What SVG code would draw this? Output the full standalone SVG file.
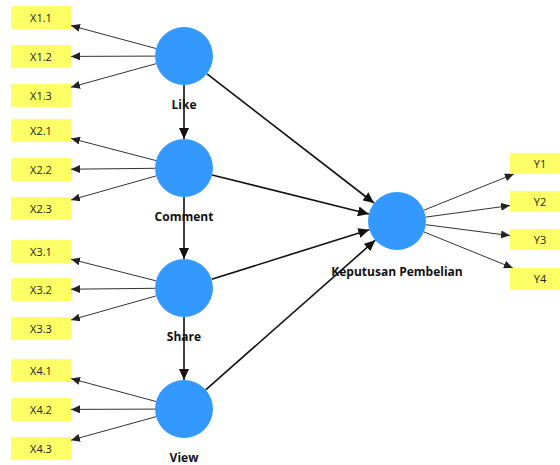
<svg xmlns="http://www.w3.org/2000/svg" width="560" height="465" viewBox="0 0 560 465">
<style>
.ind{fill:#ffff66;stroke:none}
.lv{fill:#3399ff;stroke:none}
.it{font-family:"Open Sans","Noto Sans",sans-serif;font-size:11px;fill:#222;text-anchor:middle}
.lt{font-family:"Open Sans","Noto Sans",sans-serif;font-size:12px;font-weight:bold;fill:#111;text-anchor:middle}
.sl{stroke:#111;stroke-width:1.6;fill:none;marker-end:url(#ah)}
.il{stroke:#333;stroke-width:1;fill:none;marker-end:url(#ai)}
</style>
<defs>
<marker id="ah" markerUnits="userSpaceOnUse" markerWidth="12" markerHeight="10" refX="11" refY="5" orient="auto">
<path d="M0,0 L11,5 L0,10 Z" fill="#111"/>
</marker>
<marker id="ai" markerUnits="userSpaceOnUse" markerWidth="10" markerHeight="8" refX="9" refY="4" orient="auto">
<path d="M0,0 L9,4 L0,8 Z" fill="#222"/>
</marker>
</defs>
<rect width="560" height="465" fill="#fff"/>
<g id="connectors">
<line class="sl" x1="184" y1="85" x2="184" y2="139"/>
<line class="sl" x1="184" y1="197" x2="184" y2="259"/>
<line class="sl" x1="184" y1="317" x2="184" y2="380"/>
<line class="sl" x1="207" y1="73.8" x2="374" y2="203"/>
<line class="sl" x1="212.1" y1="175" x2="368.9" y2="214"/>
<line class="sl" x1="211.7" y1="279.3" x2="369.3" y2="229.7"/>
<line class="sl" x1="205.7" y1="389.8" x2="375.3" y2="240.2"/>
<line class="il" x1="156" y1="48.5" x2="71" y2="25.6"/>
<line class="il" x1="155" y1="56.1" x2="71" y2="56.4"/>
<line class="il" x1="156" y1="63.7" x2="71" y2="87.2"/>
<line class="il" x1="156.1" y1="160.6" x2="71" y2="138.4"/>
<line class="il" x1="155" y1="168.3" x2="71" y2="169.2"/>
<line class="il" x1="156.1" y1="175.9" x2="71" y2="200"/>
<line class="il" x1="155.9" y1="280.8" x2="71" y2="259.2"/>
<line class="il" x1="155" y1="288.3" x2="71" y2="289.2"/>
<line class="il" x1="156.1" y1="295.9" x2="71" y2="320"/>
<line class="il" x1="156" y1="401.5" x2="71" y2="378.6"/>
<line class="il" x1="155" y1="409.1" x2="71" y2="409.4"/>
<line class="il" x1="156" y1="416.7" x2="71" y2="440.2"/>
<line class="il" x1="423.9" y1="210.2" x2="513.9" y2="174"/>
<line class="il" x1="425.7" y1="217.1" x2="510" y2="205.6"/>
<line class="il" x1="425.8" y1="224.7" x2="510" y2="235.6"/>
<line class="il" x1="423.9" y1="231.9" x2="512.9" y2="268"/>
</g>
<g id="X1.1"><rect class="ind" x="11" y="6" width="60" height="23"/><text class="it" x="41" y="21.5">X1.1</text></g>
<g id="X1.2"><rect class="ind" x="11" y="45" width="60" height="23"/><text class="it" x="41" y="60.5">X1.2</text></g>
<g id="X1.3"><rect class="ind" x="11" y="84" width="60" height="23"/><text class="it" x="41" y="99.5">X1.3</text></g>
<g id="X2.1"><rect class="ind" x="11" y="119" width="60" height="23"/><text class="it" x="41" y="134.5">X2.1</text></g>
<g id="X2.2"><rect class="ind" x="11" y="158" width="60" height="23"/><text class="it" x="41" y="173.5">X2.2</text></g>
<g id="X2.3"><rect class="ind" x="11" y="197" width="60" height="23"/><text class="it" x="41" y="212.5">X2.3</text></g>
<g id="X3.1"><rect class="ind" x="11" y="240" width="60" height="23"/><text class="it" x="41" y="255.5">X3.1</text></g>
<g id="X3.2"><rect class="ind" x="11" y="278" width="60" height="23"/><text class="it" x="41" y="293.5">X3.2</text></g>
<g id="X3.3"><rect class="ind" x="11" y="317" width="60" height="23"/><text class="it" x="41" y="332.5">X3.3</text></g>
<g id="X4.1"><rect class="ind" x="11" y="359" width="60" height="23"/><text class="it" x="41" y="374.5">X4.1</text></g>
<g id="X4.2"><rect class="ind" x="11" y="398" width="60" height="23"/><text class="it" x="41" y="413.5">X4.2</text></g>
<g id="X4.3"><rect class="ind" x="11" y="437" width="60" height="23"/><text class="it" x="41" y="452.5">X4.3</text></g>
<g id="Y1"><rect class="ind" x="510" y="153" width="60" height="21"/><text class="it" x="540" y="167.5">Y1</text></g>
<g id="Y2"><rect class="ind" x="510" y="191" width="60" height="21"/><text class="it" x="540" y="205.5">Y2</text></g>
<g id="Y3"><rect class="ind" x="510" y="229" width="60" height="21"/><text class="it" x="540" y="243.5">Y3</text></g>
<g id="Y4"><rect class="ind" x="510" y="268" width="60" height="22"/><text class="it" x="540" y="283">Y4</text></g>
<g id="Like"><circle class="lv" cx="184" cy="56" r="29"/><text class="lt" x="184" y="109">Like</text></g>
<g id="Comment"><circle class="lv" cx="184" cy="168" r="29"/><text class="lt" x="184" y="221">Comment</text></g>
<g id="Share"><circle class="lv" cx="184" cy="288" r="29"/><text class="lt" x="184" y="341">Share</text></g>
<g id="View"><circle class="lv" cx="184" cy="409" r="29"/><text class="lt" x="184" y="462">View</text></g>
<g id="KeputusanPembelian"><circle class="lv" cx="397" cy="221" r="29"/><text class="lt" x="397" y="276">Keputusan Pembelian</text></g>
</svg>
